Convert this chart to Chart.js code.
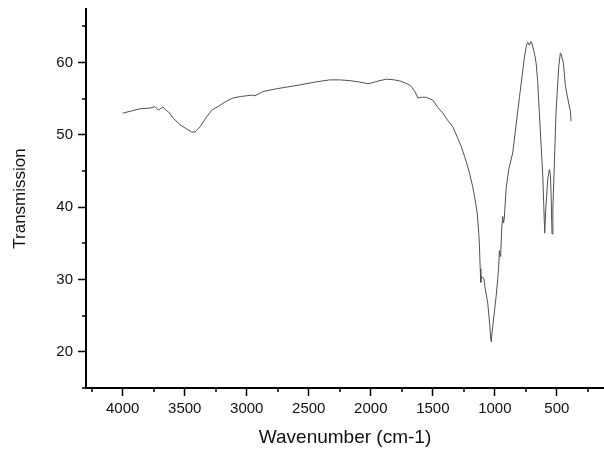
<!DOCTYPE html>
<html>
<head>
<meta charset="utf-8">
<script src="https://cdn.jsdelivr.net/npm/chart.js@4/dist/chart.umd.min.js"></script>
<style>
  html, body { margin: 0; padding: 0; background: #fff; }
  #wrap { width: 604px; height: 450px; }
</style>
</head>
<body>
<div id="wrap"><canvas id="c" width="604" height="450"></canvas></div>
<script>
// Wavenumber (cm-1)
const wavenumbers = [
  4000, 3930, 3861, 3780, 3740, 3712, 3690, 3673, 3651, 3632, 3592, 3538,
  3484, 3444, 3417, 3377, 3323, 3282, 3214, 3160, 3110, 3050, 3002, 2960, 2935,
  2900, 2868, 2750, 2573, 2450, 2331, 2250, 2170, 2090, 2030, 2009, 1950, 1875, 1810, 1754,
  1700, 1673, 1645, 1620, 1590, 1553, 1500, 1460, 1419, 1380, 1339, 1298, 1271, 1244, 1231,
  1204, 1178, 1164, 1142, 1130, 1124, 1118, 1113, 1110, 1097, 1088, 1080, 1057, 1040, 1034,
  1030, 1026, 1017, 990, 977, 969, 963, 958, 952, 944, 936, 930, 924, 909, 888,
  856, 801, 761, 745, 735, 721, 710, 703, 681, 667, 655, 641, 614, 605, 598,
  590, 574, 560, 552, 547, 539, 532, 520, 507, 485, 472, 466, 447, 431, 405,
  390, 386
];
// Transmission values
const transmission = [
  53.0, 53.3, 53.6, 53.7, 53.9, 53.4, 53.7, 53.8, 53.4, 53.2, 52.3, 51.4,
  50.8, 50.4, 50.4, 51.1, 52.5, 53.4, 54.1, 54.7, 55.1, 55.3, 55.4, 55.5, 55.4,
  55.7, 56.0, 56.4, 56.9, 57.3, 57.6, 57.6, 57.5, 57.3, 57.1, 57.1, 57.4, 57.7, 57.6, 57.4,
  57.0, 56.7, 56.0, 55.1, 55.2, 55.2, 54.8, 53.8, 53.0, 52.0, 51.1, 49.5, 48.4, 47.0, 46.3,
  44.7, 42.8, 41.5, 39.2, 36.5, 34.6, 31.5, 29.6, 30.4, 30.3, 30.1, 29.0, 26.7, 23.5, 21.9,
  21.4, 22.2, 23.5, 27.6, 30.0, 31.8, 34.0, 33.2, 33.8, 37.3, 38.7, 37.8, 38.4, 42.6, 45.2,
  47.5, 55.3, 60.8, 62.4, 62.8, 62.4, 62.9, 62.8, 61.3, 59.9, 57.5, 53.0, 44.5, 40.0, 36.4,
  39.5, 43.8, 45.2, 44.5, 42.0, 36.3, 40.0, 46.1, 53.0, 59.4, 61.3, 61.2, 59.9, 56.7, 54.4,
  53.2, 51.9
];
// Tick labels
const xMajorTicks = [4000, 3500, 3000, 2500, 2000, 1500, 1000, 500];
const xMinorTicks = [4250, 3750, 3250, 2750, 2250, 1750, 1250, 750, 250];
const yMajorTicks = [20, 30, 40, 50, 60];
const yMinorTicks = [15, 25, 35, 45, 55, 65];

const points = wavenumbers.map((w, i) => ({ x: w, y: transmission[i] }));

const FONT = "'Liberation Sans', Arial, Helvetica, sans-serif";

const minorTicksPlugin = {
  id: 'minorTicks',
  afterDraw(chart) {
    const ctx = chart.ctx;
    const xs = chart.scales.x, ys = chart.scales.y;
    ctx.save();
    ctx.strokeStyle = '#000';
    ctx.lineWidth = 1.5;
    ctx.beginPath();
    xMinorTicks.forEach(v => {
      const px = Math.round(xs.getPixelForValue(v));
      if (px < xs.left - 1 || px > xs.right + 1) return;
      ctx.moveTo(px, ys.bottom);
      ctx.lineTo(px, ys.bottom + 4);
    });
    yMinorTicks.forEach(v => {
      const py = Math.round(ys.getPixelForValue(v));
      if (py < ys.top - 1 || py > ys.bottom + 1) return;
      ctx.moveTo(xs.left, py);
      ctx.lineTo(xs.left - 4, py);
    });
    ctx.stroke();
    ctx.restore();
  }
};

new Chart(document.getElementById('c'), {
  type: 'line',
  data: {
    datasets: [{
      data: points,
      borderColor: '#505050',
      borderWidth: 1,
      pointRadius: 0,
      tension: 0,
      fill: false
    }]
  },
  options: {
    responsive: false,
    animation: false,
    events: [],
    layout: { padding: { top: 9, left: 0, right: 0, bottom: 0 } },
    plugins: { legend: { display: false }, tooltip: { enabled: false } },
    scales: {
      x: {
        type: 'linear',
        reverse: true,
        min: 120,
        max: 4296,
        afterBuildTicks: s => { s.ticks = xMajorTicks.map(v => ({ value: v })); },
        afterFit: s => { s.height = 62; s.paddingLeft = 0; s.paddingRight = 0; },
        border: { display: true, color: '#000', width: 2 },
        grid: { drawOnChartArea: false, drawTicks: true, tickLength: 8, tickColor: '#000', tickWidth: 1.5 },
        ticks: {
          color: '#111', padding: 4, maxRotation: 0, autoSkip: false,
          font: { family: FONT, size: 15 },
          callback: v => String(v)
        },
        title: {
          display: true,
          text: 'Wavenumber (cm-1)',
          color: '#111',
          font: { family: FONT, size: 19 },
          padding: { top: 0, bottom: 1 }
        }
      },
      y: {
        type: 'linear',
        min: 15,
        max: 67.4,
        afterBuildTicks: s => { s.ticks = yMajorTicks.map(v => ({ value: v })); },
        afterFit: s => { s.width = 86; s.paddingTop = 0; s.paddingBottom = 0; },
        border: { display: true, color: '#000', width: 2 },
        grid: { drawOnChartArea: false, drawTicks: true, tickLength: 8, tickColor: '#000', tickWidth: 1.5 },
        ticks: {
          color: '#111', padding: 5, autoSkip: false,
          font: { family: FONT, size: 15 },
          callback: v => String(v)
        },
        title: {
          display: true,
          text: 'Transmission',
          color: '#111',
          font: { family: FONT, size: 17 },
          padding: { top: 10, bottom: 0 }
        }
      }
    }
  },
  plugins: [minorTicksPlugin]
});
</script>
</body>
</html>
